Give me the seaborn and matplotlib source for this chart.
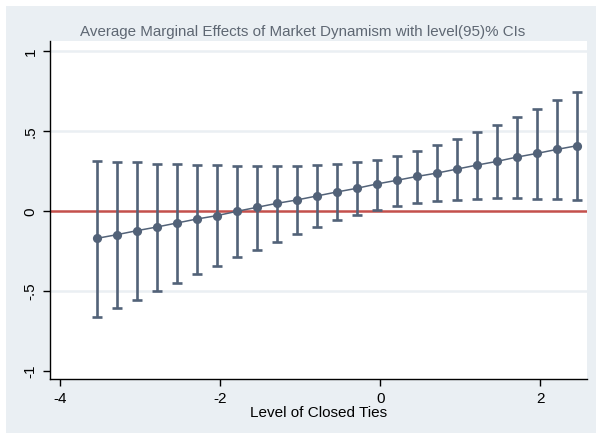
import matplotlib
matplotlib.use("Agg")
import matplotlib.pyplot as plt
import matplotlib.patches as mpatches
import seaborn as sns
import pandas as pd

# Values of "Level of Closed Ties" at which margins were evaluated
closed_ties = [-3.545, -3.295, -3.045, -2.795, -2.545, -2.295, -2.045, -1.795,
               -1.545, -1.295, -1.045, -0.795, -0.545, -0.295, -0.045, 0.205,
               0.455, 0.705, 0.955, 1.205, 1.455, 1.705, 1.955, 2.205, 2.455]

# Average marginal effect of market dynamism
ame = [-0.174, -0.151, -0.126, -0.103, -0.078, -0.053, -0.032, -0.005,
       0.020, 0.045, 0.066, 0.091, 0.116, 0.139, 0.166, 0.189,
       0.213, 0.234, 0.259, 0.284, 0.307, 0.334, 0.357, 0.382, 0.405]

# 95% confidence bounds
ci_upper = [0.309, 0.303, 0.303, 0.291, 0.291, 0.286, 0.286, 0.280,
            0.280, 0.280, 0.280, 0.286, 0.293, 0.303, 0.318, 0.343,
            0.374, 0.409, 0.449, 0.493, 0.536, 0.584, 0.636, 0.693, 0.743]
ci_lower = [-0.664, -0.607, -0.559, -0.503, -0.453, -0.397, -0.345, -0.289,
            -0.245, -0.195, -0.147, -0.103, -0.057, -0.026, 0.005, 0.030,
            0.050, 0.061, 0.066, 0.072, 0.078, 0.076, 0.072, 0.070, 0.066]

x_ticks = [-4, -2, 0, 2]
y_ticks = [-1, -0.5, 0, 0.5, 1]
y_ticklabels = ["-1", "-.5", "0", ".5", "1"]

title = "Average Marginal Effects of Market Dynamism with level(95)% CIs"
x_label = "Level of Closed Ties"

df = pd.DataFrame({"x": closed_ties, "ame": ame,
                   "lo": ci_lower, "hi": ci_upper})

sns.set_theme(style="white")
plt.rcParams["font.family"] = ["Liberation Sans", "DejaVu Sans"]

MARK = "#526278"
RED = "#C4504C"
BG = "#EAEFF3"

fig = plt.figure(figsize=(5.96, 4.35), dpi=100)
fig.patch.set_facecolor("white")
W, H = 596, 435
fig.patches.append(mpatches.Rectangle((6 / W, 1 / H), 590 / W, 427 / H,
                                      transform=fig.transFigure,
                                      facecolor=BG, edgecolor="none",
                                      zorder=-10))

ax = fig.add_axes([50 / W, (H - 380) / H, 537 / W, 338 / H])
ax.set_facecolor("white")

# horizontal grid (skipping the bottom tick)
for g in [-0.5, 0.5, 1.0]:
    ax.axhline(g, color=BG, lw=1.8, zorder=0)

ax.axhline(0, color=RED, lw=1.8, zorder=1)

ax.errorbar(df["x"], df["ame"],
            yerr=[df["ame"] - df["lo"], df["hi"] - df["ame"]],
            fmt="none", ecolor=MARK, elinewidth=1.9, capsize=3.3,
            capthick=1.9, zorder=2)

sns.lineplot(data=df, x="x", y="ame", ax=ax, color=MARK, lw=1.1,
             marker="o", markersize=6.6, markeredgewidth=0,
             markerfacecolor=MARK, zorder=3)

ax.set_xlim(-4.129, 2.584)
ax.set_ylim(-1.053, 1.06)
ax.set_xticks(x_ticks)
ax.set_xticklabels([str(t) for t in x_ticks])
ax.set_yticks(y_ticks)
ax.set_yticklabels(y_ticklabels, rotation=90, va="center")

for side in ["top", "right"]:
    ax.spines[side].set_visible(False)
for side in ["left", "bottom"]:
    ax.spines[side].set_color("black")
    ax.spines[side].set_linewidth(1.0)

ax.tick_params(axis="both", which="major", direction="out", length=5,
               width=1.0, color="black", labelsize=11, labelcolor="black",
               left=True, bottom=True, pad=4)

ax.set_xlabel(x_label, fontsize=11, color="black", labelpad=0)
ax.set_ylabel("")
fig.text(303 / W, 1 - 32 / H, title, ha="center", va="center",
         fontsize=10.9, color="#5E6773")

fig.savefig("out.png", dpi=100, facecolor=fig.get_facecolor())
